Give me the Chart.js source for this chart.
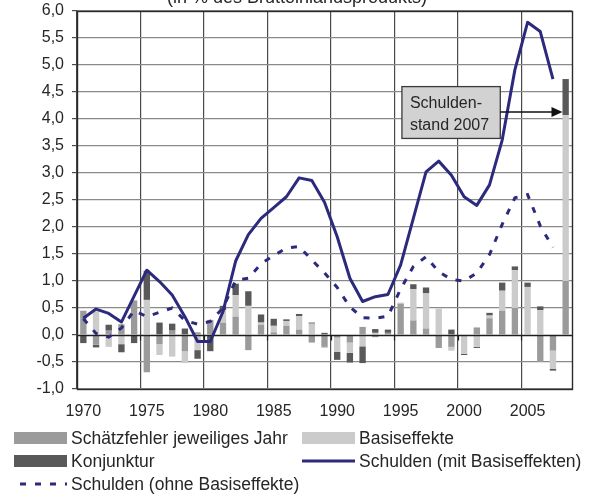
<!DOCTYPE html>
<html>
<head>
<meta charset="utf-8">
<script src="https://cdn.jsdelivr.net/npm/chart.js@4/dist/chart.umd.min.js"></script>
<style>
  html, body { margin: 0; padding: 0; background: #ffffff; }
  #wrap { position: relative; width: 595px; height: 497px; }
</style>
</head>
<body>
<div id="wrap"><canvas id="c" width="595" height="497"></canvas></div>
<script>
// Jahre (Kategorien)
const years = [
  1970, 1971, 1972, 1973, 1974, 1975, 1976, 1977, 1978, 1979,
  1980, 1981, 1982, 1983, 1984, 1985, 1986, 1987, 1988, 1989,
  1990, 1991, 1992, 1993, 1994, 1995, 1996, 1997, 1998, 1999,
  2000, 2001, 2002, 2003, 2004, 2005, 2006, 2007, 2008
];
// beschriftete Jahre der x-Achse
const xTickLabels = [1970, 1975, 1980, 1985, 1990, 1995, 2000, 2005];

// Balkenkomponenten (in % des BIP)
const schaetzfehler = [
   0.45, -0.18,  0.08,  0.20,  0.64, -0.69, -0.17,  0.08, -0.30,  0.05,
   0.28,  0.23,  0.34, -0.28,  0.19,  0.05,  0.17,  0.10, -0.14, -0.22,
  -0.05, -0.14,  0.15, -0.04,  0.04,  0.58,  0.27,  0.12, -0.24, -0.22,
   0.00,  0.14,  0.31,  0.45,  0.50,  0.00, -0.50, -0.29,  1.00
];
const basiseffekte = [
   0.00,  0.44, -0.22, -0.17,  0.00,  0.65, -0.20, -0.40, -0.22, -0.28,
   0.00,  0.23,  0.40,  0.54,  0.04,  0.12,  0.09,  0.25,  0.21, -0.02,
  -0.26, -0.19, -0.21,  0.04,  0.00,  0.02,  0.58,  0.65,  0.49, -0.07,
  -0.35, -0.22,  0.05,  0.37,  0.70,  0.89,  0.46, -0.34,  3.07
];
const konjunktur = [
  -0.15, -0.05,  0.11, -0.15, -0.15,  0.54,  0.23,  0.13,  0.12, -0.16,
  -0.30,  0.08,  0.21,  0.27,  0.15,  0.13,  0.03,  0.04,  0.02,  0.04,
  -0.15, -0.18, -0.31,  0.07,  0.06,  0.00,  0.09,  0.11,  0.00,  0.10,
  -0.02, -0.02,  0.05,  0.15,  0.07,  0.08,  0.07, -0.03,  0.67
];

// kumulierte Schulden
const schuldenMit = [
  0.31, 0.48, 0.40, 0.24, 0.72, 1.20, 0.99, 0.74, 0.34, -0.12,
  -0.12, 0.43, 1.37, 1.86, 2.16, 2.36, 2.56, 2.91, 2.86, 2.46,
  1.82, 1.05, 0.62, 0.71, 0.75, 1.30, 2.16, 3.02, 3.22, 2.96,
  2.56, 2.40, 2.78, 3.61, 4.91, 5.79, 5.62, 4.74, null
];
const schuldenOhne = [
  0.30, 0.03, -0.04, 0.13, 0.45, 0.34, 0.42, 0.50, 0.27, 0.20,
  0.25, 0.50, 1.01, 1.05, 1.32, 1.47, 1.61, 1.64, 1.39, 1.15,
  0.88, 0.52, 0.32, 0.31, 0.35, 0.85, 1.27, 1.45, 1.17, 1.03,
  1.00, 1.15, 1.49, 2.05, 2.54, 2.60, 2.02, 1.62, null
];

const titleText = '(in % des Bruttoinlandsprodukts)';
const noteLines = ['Schulden-', 'stand 2007'];

const FONT = "'Liberation Sans', Arial, Helvetica, sans-serif";
const COL_MED = '#9b9b9b';
const COL_LIGHT = '#cbcbcb';
const COL_DARK = '#595959';
const COL_NAVY = '#2c2a7c';
const TEXT = '#262626';

const fmt = v => v.toFixed(1).replace('.', ',');

// Rahmen, Nulllinie, Titel, Hinweisbox und Legende
const decor = {
  id: 'decor',
  beforeDatasetDraw(chart, args) {
    // Nulllinie über den Balken, unter den Linien
    if (args.index !== 4) return;
    const { ctx, chartArea: a, scales } = chart;
    const y0 = Math.round(scales.y.getPixelForValue(0)) + 0.5;
    ctx.save();
    ctx.strokeStyle = '#1e1e1e';
    ctx.lineWidth = 1.4;
    ctx.beginPath();
    ctx.moveTo(a.left, y0);
    ctx.lineTo(a.right, y0);
    ctx.stroke();
    ctx.lineWidth = 1.2;
    const half = (scales.x.getPixelForValue(1) - scales.x.getPixelForValue(0)) / 2;
    for (let i = 5; i < years.length; i += 5) {
      const xg = Math.round(scales.x.getPixelForValue(i) - half) + 0.5;
      ctx.beginPath();
      ctx.moveTo(xg, y0);
      ctx.lineTo(xg, y0 + 5);
      ctx.stroke();
    }
    ctx.restore();
  },
  afterDraw(chart) {
    const { ctx, chartArea: a, scales } = chart;
    const xs = scales.x, ys = scales.y;
    ctx.save();

    // Rahmen des Diagramms
    ctx.strokeStyle = '#2a2a2a';
    ctx.lineWidth = 1.4;
    ctx.strokeRect(Math.round(a.left) + 0.5, Math.round(a.top) + 0.5,
                   Math.round(a.right - a.left), Math.round(a.bottom - a.top));

    // Titel (oben angeschnitten)
    ctx.fillStyle = TEXT;
    ctx.font = '18px ' + FONT;
    ctx.textAlign = 'center';
    ctx.textBaseline = 'alphabetic';
    ctx.fillText(titleText, 297, 3);

    // Hinweisbox "Schuldenstand 2007" mit Pfeil
    const bx0 = xs.getPixelForValue(25.1);
    const bx1 = xs.getPixelForValue(32.85);
    const by0 = ys.getPixelForValue(4.6);
    const by1 = ys.getPixelForValue(3.64);
    ctx.fillStyle = '#d2d2d2';
    ctx.fillRect(bx0, by0, bx1 - bx0, by1 - by0);
    ctx.strokeStyle = '#3a3a3a';
    ctx.lineWidth = 1.3;
    ctx.strokeRect(bx0, by0, bx1 - bx0, by1 - by0);
    ctx.fillStyle = TEXT;
    ctx.font = '16px ' + FONT;
    ctx.textAlign = 'left';
    ctx.textBaseline = 'middle';
    ctx.fillText(noteLines[0], bx0 + 8, by0 + 17);
    ctx.fillText(noteLines[1], bx0 + 8, by0 + 39);

    const ay = ys.getPixelForValue(4.13);
    const tip = xs.getPixelForValue(37.75);
    ctx.strokeStyle = '#111';
    ctx.lineWidth = 1.3;
    ctx.beginPath();
    ctx.moveTo(bx1, ay);
    ctx.lineTo(tip - 9, ay);
    ctx.stroke();
    ctx.fillStyle = '#111';
    ctx.beginPath();
    ctx.moveTo(tip, ay);
    ctx.lineTo(tip - 11, ay - 5);
    ctx.lineTo(tip - 11, ay + 5);
    ctx.closePath();
    ctx.fill();

    // Legende
    const ds = chart.data.datasets;
    ctx.font = '17.5px ' + FONT;
    ctx.textBaseline = 'middle';
    ctx.textAlign = 'left';
    const col1 = 14, col2 = 302, bw = 53;
    const rows = [438, 461, 484];
    const boxItem = (x, y, d) => {
      ctx.fillStyle = d.backgroundColor;
      ctx.fillRect(x, y - 6, bw, 12);
      ctx.fillStyle = TEXT;
      ctx.fillText(d.label, x + bw + 4, y + 1);
    };
    const lineItem = (x, y, d) => {
      ctx.strokeStyle = d.borderColor;
      ctx.lineWidth = 3;
      ctx.setLineDash(d.borderDash || []);
      ctx.beginPath();
      ctx.moveTo(x + (d.borderDash ? 6 : 0), y);
      ctx.lineTo(x + bw, y);
      ctx.stroke();
      ctx.setLineDash([]);
      ctx.fillStyle = TEXT;
      ctx.fillText(d.label, x + bw + 4, y + 1);
    };
    boxItem(col1, rows[0], ds[0]);
    boxItem(col2, rows[0], ds[1]);
    boxItem(col1, rows[1], ds[2]);
    lineItem(col2, rows[1], ds[3]);
    lineItem(col1, rows[2], ds[4]);

    ctx.restore();
  }
};

new Chart(document.getElementById('c'), {
  type: 'bar',
  data: {
    labels: years,
    datasets: [
      { label: 'Schätzfehler jeweiliges Jahr', data: schaetzfehler, backgroundColor: COL_MED,
        yAxisID: 'y', order: 2, barPercentage: 0.5, categoryPercentage: 1.0 },
      { label: 'Basiseffekte', data: basiseffekte, backgroundColor: COL_LIGHT,
        yAxisID: 'y', order: 2, barPercentage: 0.5, categoryPercentage: 1.0 },
      { label: 'Konjunktur', data: konjunktur, backgroundColor: COL_DARK,
        yAxisID: 'y', order: 2, barPercentage: 0.5, categoryPercentage: 1.0 },
      { type: 'line', label: 'Schulden (mit Basiseffekten)', data: schuldenMit,
        borderColor: COL_NAVY, backgroundColor: COL_NAVY, borderWidth: 3,
        pointRadius: 0, tension: 0, yAxisID: 'y2', order: 0, borderJoinStyle: 'round' },
      { type: 'line', label: 'Schulden (ohne Basiseffekte)', data: schuldenOhne,
        borderColor: COL_NAVY, backgroundColor: COL_NAVY, borderWidth: 3, borderDash: [6, 9],
        pointRadius: 0, tension: 0, yAxisID: 'y2', order: 1 }
    ]
  },
  options: {
    responsive: false,
    devicePixelRatio: 1,
    animation: false,
    layout: { padding: { top: 11, right: 23, bottom: 72, left: 0 } },
    plugins: { legend: { display: false }, title: { display: false }, tooltip: { enabled: false } },
    scales: {
      x: {
        type: 'category',
        stacked: true,
        offset: true,
        border: { display: false },
        grid: {
          offset: true,
          drawTicks: false,
          lineWidth: 1.2,
          color: c => (c.index % 5 === 0 ? '#4a4a4a' : 'rgba(0,0,0,0)')
        },
        ticks: {
          autoSkip: false,
          maxRotation: 0,
          padding: 13,
          color: TEXT,
          font: { family: FONT, size: 16 },
          callback: (v, i) => (xTickLabels.includes(years[i]) ? String(years[i]) : '')
        },
        afterFit: s => { s.height = 36; s.paddingLeft = 0; s.paddingRight = 0; }
      },
      y: {
        stacked: true,
        min: -1,
        max: 6,
        border: { display: false },
        grid: {
          color: c => (c.tick && c.tick.value === 0 ? 'rgba(0,0,0,0)' : '#8a8a8a'),
          lineWidth: 1.2,
          tickLength: 5,
          tickColor: '#4a4a4a'
        },
        ticks: {
          stepSize: 0.5,
          padding: 8,
          color: TEXT,
          font: { family: FONT, size: 16 },
          callback: v => fmt(v)
        },
        afterFit: s => { s.width = 77; s.paddingTop = 0; s.paddingBottom = 0; }
      },
      y2: {
        display: false,
        stacked: false,
        min: -1,
        max: 6
      }
    }
  },
  plugins: [decor]
});
</script>
</body>
</html>
